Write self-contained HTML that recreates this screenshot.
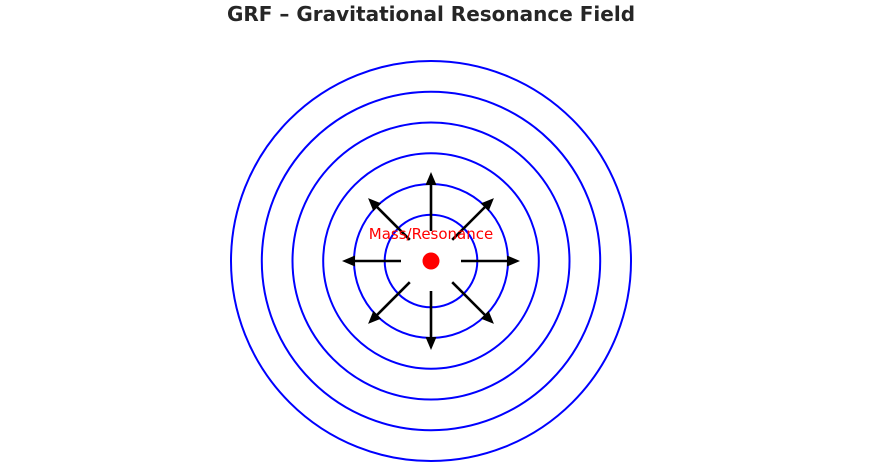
<!DOCTYPE html>
<html><head><meta charset="utf-8"><style>
html,body{margin:0;padding:0;background:#fff;width:871px;height:465px;overflow:hidden}
</style></head><body>
<svg width="871" height="465" viewBox="0 0 871 465" xmlns="http://www.w3.org/2000/svg">
<text x="431" y="21" text-anchor="middle" font-family="DejaVu Sans, Liberation Sans, sans-serif" font-weight="bold" font-size="20" fill="#262626">GRF – Gravitational Resonance Field</text>
<g fill="none" stroke="#0000ff" stroke-width="2">
<circle cx="431" cy="261" r="46.3"/>
<circle cx="431" cy="261" r="77"/>
<circle cx="431" cy="261" r="107.8"/>
<circle cx="431" cy="261" r="138.5"/>
<circle cx="431" cy="261" r="169.2"/>
<circle cx="431" cy="261" r="200"/>
</g>
<g id="arr">
<line x1="461" y1="261" x2="510" y2="261" stroke="#000" stroke-width="2.6"/>
<polygon points="520,261 507,255.5 507,266.5" fill="#000"/>
</g>
<use href="#arr" transform="rotate(45 431 261)"/>
<use href="#arr" transform="rotate(90 431 261)"/>
<use href="#arr" transform="rotate(135 431 261)"/>
<use href="#arr" transform="rotate(180 431 261)"/>
<use href="#arr" transform="rotate(225 431 261)"/>
<use href="#arr" transform="rotate(270 431 261)"/>
<use href="#arr" transform="rotate(315 431 261)"/>
<circle cx="431" cy="261" r="8.5" fill="#ff0000"/>
<text x="431" y="239" text-anchor="middle" font-family="DejaVu Sans, Liberation Sans, sans-serif" font-size="15" fill="#ff0000">Mass/Resonance</text>
</svg>
</body></html>
